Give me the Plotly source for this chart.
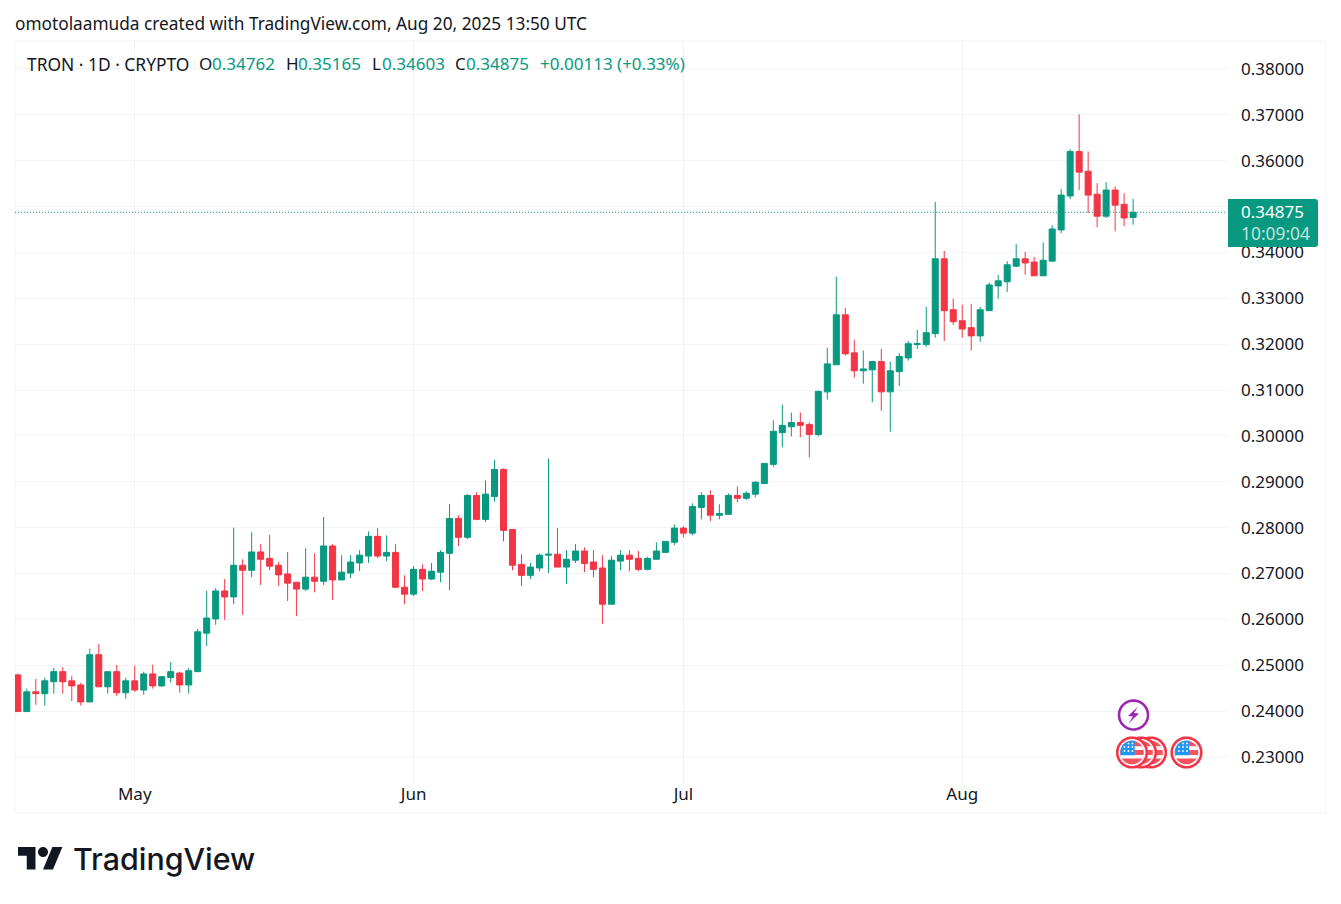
import numpy as np
import pandas as pd
import plotly.graph_objects as go

start_date = "2025-04-18"
opens = [.2479,.2399,.2442,.2438,.2464,.2486,.2466,.2457,.2420,.2523,.2453,.2486,.2440,.2466,.2446,.2481,.2455,.2473,.2483,.2457,
         .2486,.2570,.2601,.2662,.2649,.2718,.2707,.2747,.2733,.2718,.2699,.2681,.2666,.2692,.2683,.2760,.2686,.2701,.2723,.2738,
         .2781,.2738,.2746,.2670,.2655,.2709,.2688,.2703,.2744,.2820,.2779,.2870,.2818,.2868,.2927,.2796,.2720,.2696,.2712,.2740,
         .2742,.2714,.2729,.2749,.2725,.2712,.2633,.2727,.2740,.2733,.2709,.2731,.2746,.2768,.2799,.2788,.2844,.2870,.2827,.2829,
         .2870,.2864,.2873,.2896,.2938,.3007,.3020,.3029,.3025,.3003,.3096,.3155,.3264,.3181,.3142,.3144,.3162,.3096,.3140,.3170,
         .3199,.3199,.3223,.3386,.3275,.3251,.3236,.3218,.3273,.3327,.3336,.3370,.3386,.3379,.3349,.3381,.3449,.3523,.3620,.3577,
         .3527,.3479,.3536,.3505,.34762]
highs = [.2482,.2449,.2470,.2473,.2494,.2496,.2477,.2462,.2536,.2546,.2486,.2501,.2473,.2499,.2486,.2501,.2475,.2507,.2486,.2494,
         .2579,.2662,.2668,.2688,.2800,.2731,.2790,.2764,.2784,.2725,.2747,.2681,.2755,.2744,.2823,.2764,.2740,.2740,.2751,.2792,
         .2799,.2783,.2764,.2696,.2716,.2720,.2723,.2751,.2851,.2827,.2873,.2877,.2903,.2947,.2929,.2796,.2742,.2723,.2744,.2951,
         .2799,.2751,.2764,.2757,.2751,.2740,.2738,.2751,.2751,.2749,.2736,.2768,.2770,.2807,.2803,.2853,.2877,.2881,.2851,.2875,
         .2890,.2879,.2901,.2940,.3034,.3068,.3051,.3051,.3029,.3099,.3192,.3347,.3279,.3210,.3186,.3164,.3190,.3162,.3181,.3207,
         .3231,.3281,.3510,.3403,.3299,.3286,.3288,.3281,.3334,.3351,.3381,.3418,.3401,.3390,.3422,.3459,.3538,.3625,.3701,.3620,
         .3551,.3553,.3544,.3529,.35165]
lows = [.2399,.2399,.2414,.2412,.2438,.2438,.2422,.2412,.2420,.2453,.2438,.2433,.2427,.2442,.2436,.2449,.2453,.2462,.2440,.2438,
        .2486,.2542,.2588,.2599,.2633,.2610,.2692,.2675,.2707,.2673,.2640,.2607,.2662,.2659,.2675,.2642,.2686,.2690,.2705,.2723,
        .2733,.2727,.2668,.2633,.2651,.2662,.2686,.2681,.2664,.2760,.2775,.2816,.2812,.2857,.2770,.2707,.2673,.2688,.2705,.2701,
        .2714,.2677,.2723,.2703,.2692,.2590,.2633,.2707,.2705,.2705,.2707,.2731,.2746,.2762,.2779,.2783,.2818,.2814,.2818,.2829,
        .2855,.2860,.2866,.2896,.2933,.2975,.2999,.2997,.2953,.2999,.3079,.3155,.3175,.3127,.3114,.3073,.3055,.3009,.3109,.3164,
        .3190,.3194,.3214,.3207,.3242,.3214,.3186,.3205,.3273,.3299,.3314,.3368,.3351,.3349,.3349,.3381,.3442,.3516,.3536,.3486,
        .3455,.3475,.3446,.3457,.34603]
closes = [.2399,.2442,.2438,.2466,.2486,.2464,.2455,.2420,.2523,.2453,.2486,.2440,.2466,.2446,.2481,.2455,.2475,.2486,.2457,.2488,
          .2573,.2603,.2662,.2649,.2718,.2707,.2747,.2731,.2716,.2697,.2679,.2666,.2692,.2683,.2760,.2686,.2703,.2725,.2740,.2781,
          .2738,.2746,.2670,.2655,.2709,.2688,.2705,.2746,.2820,.2779,.2870,.2818,.2873,.2927,.2794,.2718,.2696,.2714,.2740,.2742,
          .2714,.2731,.2749,.2722,.2709,.2633,.2729,.2740,.2731,.2709,.2733,.2749,.2770,.2799,.2788,.2846,.2870,.2827,.2831,.2870,
          .2864,.2875,.2899,.2940,.3010,.3023,.3029,.3023,.3003,.3097,.3157,.3264,.3179,.3142,.3146,.3162,.3096,.3142,.3173,.3201,
          .3201,.3225,.3386,.3273,.3249,.3233,.3218,.3275,.3329,.3338,.3373,.3386,.3377,.3349,.3383,.3451,.3525,.3620,.3575,.3525,
          .3479,.3536,.3503,.3475,.34875]

price_ticks = [.23,.24,.25,.26,.27,.28,.29,.30,.31,.32,.33,.34,.35,.36,.37,.38]
price_labels = ["0.23000","0.24000","0.25000","0.26000","0.27000","0.28000","0.29000","0.30000",
                "0.31000","0.32000","0.33000","0.34000","","0.36000","0.37000","0.38000"]
month_ticks = ["2025-05-01","2025-06-01","2025-07-01","2025-08-01"]
month_labels = ["May","Jun","Jul","Aug"]

dates = pd.date_range(start_date, periods=len(opens), freq="D")

GREEN = "#089981"
RED = "#F23645"
GRID = "#F2F3F5"
INK = "#131722"
FONT = "Noto Sans"
W, H = 1341, 904
L, R, T, B = 15, 1227, 41, 784

def px(x):
    return (x - L) / (R - L)

def py(y):
    return (B - y) / (B - T)

def poly(points):
    return "M" + "L".join(f"{px(x):.5f},{py(y):.5f}" for x, y in points) + "Z"

def circle_pts(cx, cy, r, a0=0, a1=360, n=48):
    return [(cx + r * np.cos(np.radians(a)), cy + r * np.sin(np.radians(a)))
            for a in np.linspace(a0, a1, n)]

def shape(path, fill=None, line=None, lw=0):
    return dict(type="path", xref="paper", yref="paper", path=path, layer="above",
                fillcolor=fill or "rgba(0,0,0,0)",
                line=dict(color=line or "rgba(0,0,0,0)", width=lw))

def flag(cx, cy):
    rr = 11.8
    out = [shape(poly(circle_pts(cx, cy, 14.8)), "#FFFFFF", RED, 2.6)]
    out.append(shape(poly(circle_pts(cx, cy, rr)), "#F7525F"))
    # white stripes
    for y0, y1 in [(-6.2, -2.4), (2.6, 6.0)]:
        hw0 = np.sqrt(max(rr**2 - y0**2, 0))
        hw1 = np.sqrt(max(rr**2 - y1**2, 0))
        out.append(shape(poly([(cx - hw0, cy + y0), (cx + hw0, cy + y0), (cx + hw1, cy + y1), (cx - hw1, cy + y1)]), "#FFFFFF"))
    # canton
    pts = [(cx + 2.7, cy + 2.8), (cx - rr + 0.3, cy + 2.8)] + circle_pts(cx, cy, rr, 192, 270, 12) + [(cx + 2.7, cy - rr)]
    out.append(shape(poly(pts), "#2196F3"))
    for dx, dy in [(-7.5, -1.5), (-3.5, -1.5), (0.5, -1.5), (-7.5, -5.5), (-3.5, -5.5), (0.5, -5.5), (-3.5, -9), (0.5, -9)]:
        out.append(shape(poly(circle_pts(cx + dx, cy + dy, 0.95, n=8)), "#FFFFFF"))
    return out

fig = go.Figure(go.Candlestick(
    x=dates, open=opens, high=highs, low=lows, close=closes,
    whiskerwidth=0,
    increasing=dict(line=dict(color=GREEN, width=1), fillcolor=GREEN),
    decreasing=dict(line=dict(color=RED, width=1), fillcolor=RED),
    showlegend=False,
))

shapes = [
    dict(type="rect", xref="paper", yref="paper", x0=px(15), x1=px(1326), y0=py(813), y1=py(41),
         line=dict(color=GRID, width=1), layer="below"),
    dict(type="line", xref="paper", yref="y", x0=0, x1=1, y0=closes[-1], y1=closes[-1],
         line=dict(color=GREEN, width=1, dash="1px,2px"), layer="above"),
    dict(type="path", xref="paper", yref="paper", layer="above", fillcolor=GREEN, line=dict(width=0),
         path=f"M{px(1228)},{py(199)}L{px(1315)},{py(199)}Q{px(1318)},{py(199)} {px(1318)},{py(202)}"
              f"L{px(1318)},{py(244)}Q{px(1318)},{py(247)} {px(1315)},{py(247)}L{px(1228)},{py(247)}Z"),
]
# event markers
shapes.append(shape(poly(circle_pts(1133.5, 715, 14.5)), "#FFFFFF", "#9C27B0", 2.6))
shapes.append(shape(poly([(1138, 706.5), (1128, 716), (1133, 716.5), (1128.5, 723.5), (1139, 713.5), (1134, 713)]), "#9C27B0"))
for cx in (1151, 1141, 1132, 1186.5):
    shapes += flag(cx, 752.5)
# logo mark
sc, ox, oy = 1.25, 18, 842
lg = lambda pts: [(ox + u * sc, oy + v * sc) for u, v in pts]
shapes.append(shape(poly(lg([(14, 22), (7, 22), (7, 11), (0, 11), (0, 4), (14, 4)])), "#131722"))
shapes.append(shape(poly(lg([(28, 22), (20, 22), (27.5, 4), (35.5, 4)])), "#131722"))
shapes.append(shape(poly(circle_pts(ox + 20 * sc, oy + 8 * sc, 4 * sc)), "#131722"))

def label(x, y, text, color=INK, size=17, anchor="left", weight=None, family=FONT):
    f = dict(family=family, size=size, color=color)
    if weight:
        f["weight"] = weight
    return dict(xref="paper", yref="paper", x=px(x), y=py(y), text=text, showarrow=False,
                xanchor=anchor, yanchor="middle", font=f, borderpad=0, borderwidth=0)

annotations = [
    label(15, 23, "omotolaamuda created with TradingView.com, Aug 20, 2025 13:50 UTC", size=17.25),
    label(27, 63.5, "TRON · 1D · CRYPTO", size=17.4),
    label(199, 63.5, "O"), label(212, 63.5, "0.34762", GREEN),
    label(286, 63.5, "H"), label(298, 63.5, "0.35165", GREEN),
    label(372, 63.5, "L"), label(382, 63.5, "0.34603", GREEN),
    label(455, 63.5, "C"), label(466, 63.5, "0.34875", GREEN),
    label(540, 63.5, "+0.00113 (+0.33%)", GREEN),
    label(1241, 212, "0.34875", "#FFFFFF"),
    label(1241, 233, "10:09:04", "rgba(255,255,255,0.75)", size=17.4),
    label(73, 859, "TradingView", "#131722", 30.4, weight=500, family="Inter"),
]

fig.update_layout(
    width=W, height=H, margin=dict(l=L, r=W - R, t=T, b=H - B),
    paper_bgcolor="#FFFFFF", plot_bgcolor="#FFFFFF",
    boxgap=0.33, boxgroupgap=0,
    shapes=shapes, annotations=annotations,
    font=dict(family=FONT, size=17, color=INK),
    xaxis=dict(type="date", range=["2025-04-17 16:30", "2025-08-30 10:30"], rangeslider=dict(visible=False),
               tickmode="array", tickvals=month_ticks, ticktext=month_labels,
               showgrid=True, gridcolor=GRID, gridwidth=1, zeroline=False, showline=False, ticks="",
               ticklabelstandoff=-2),
    yaxis=dict(side="right", range=[0.22411, 0.38609], tickmode="array", tickvals=price_ticks,
               ticktext=price_labels, showgrid=True, gridcolor=GRID, gridwidth=1, zeroline=False,
               showline=False, ticks="", ticklabelstandoff=13),
)

fig.write_html("out.html", config=dict(displayModeBar=False),
               post_script="document.body.style.margin='0';")
